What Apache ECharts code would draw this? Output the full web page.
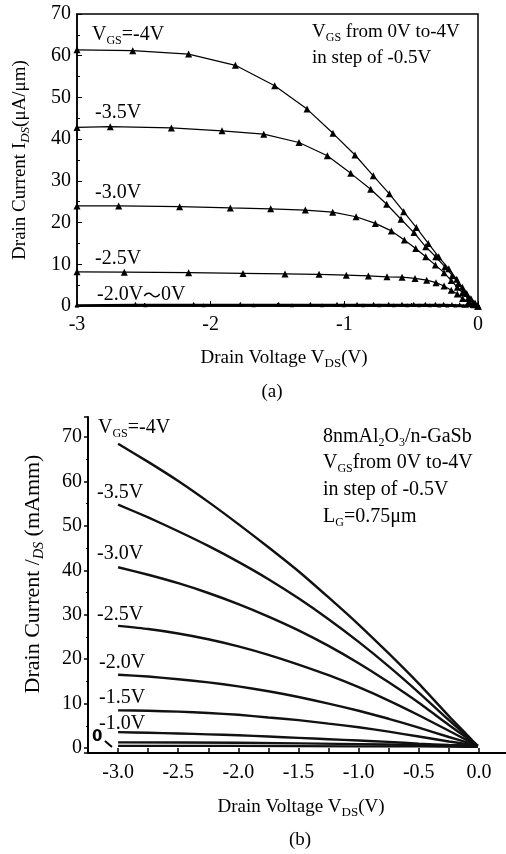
<!DOCTYPE html>
<html>
<head>
<meta charset="utf-8">
<script src="https://cdn.jsdelivr.net/npm/echarts@6/dist/echarts.min.js"></script>
<style>
  html, body { margin: 0; padding: 0; background: #fff; }
  #main { width: 506px; height: 854px; }
</style>
</head>
<body>
<div id="main"></div>
<script>
// (a) measured I-V points with triangle markers, [Vds, Ids]
var a40 = [[-3,61.4],[-2.583,61.2],[-2.165,60.4],[-1.815,57.7],[-1.521,52.8],[-1.279,47.2],[-1.085,41.4],[-0.920,36.2],[-0.783,31.2],[-0.663,26.9],[-0.556,22.6],[-0.461,18.8],[-0.372,15.0],[-0.294,11.8],[-0.219,8.9],[-0.159,6.4],[-0.117,4.5],[-0.084,3.0],[-0.05,1.6],[-0.02,0.6],[0,0]];
var a35 = [[-3,42.8],[-2.751,43.0],[-2.294,42.7],[-1.915,42.0],[-1.603,41.2],[-1.339,39.2],[-1.127,36.0],[-0.952,31.8],[-0.803,28.0],[-0.683,24.4],[-0.576,20.8],[-0.479,17.6],[-0.391,14.2],[-0.316,11.8],[-0.247,9.4],[-0.192,7.3],[-0.147,5.4],[-0.10,3.4],[-0.06,1.8],[-0.025,0.6],[0,0]];
var a30 = [[-3,24.0],[-2.688,24.0],[-2.232,23.8],[-1.853,23.5],[-1.551,23.3],[-1.292,23.0],[-1.087,22.5],[-0.912,21.4],[-0.768,19.8],[-0.648,18.0],[-0.551,15.8],[-0.466,13.8],[-0.391,11.8],[-0.319,9.8],[-0.254,8.0],[-0.200,6.1],[-0.155,4.5],[-0.117,3.2],[-0.075,1.8],[-0.035,0.7],[0,0]];
var a25 = [[-3,8.2],[-2.646,8.1],[-2.165,8.0],[-1.758,7.8],[-1.444,7.7],[-1.189,7.6],[-0.985,7.4],[-0.820,7.2],[-0.681,7.0],[-0.568,6.9],[-0.471,6.6],[-0.384,6.2],[-0.314,5.6],[-0.254,4.8],[-0.200,3.8],[-0.155,2.9],[-0.115,1.8],[-0.07,0.9],[-0.03,0.3],[0,0]];
var a20 = [[-3,0.3],[-2.563,0.4],[-2.127,0.4],[-1.778,0.4],[-1.491,0.4],[-1.254,0.4],[-1.055,0.4],[-0.905,0.4],[-0.781,0.4],[-0.668,0.4],[-0.569,0.4],[-0.481,0.4],[-0.394,0.4],[-0.319,0.4],[-0.257,0.4],[-0.195,0.35],[-0.137,0.3],[-0.087,0.2],[-0.045,0.1],[0,0]];
var a15 = [[-3,0.1],[-2.489,0.15],[-2.052,0.15],[-1.678,0.15],[-1.392,0.15],[-1.167,0.15],[-1.005,0.15],[-0.86,0.15],[-0.74,0.15],[-0.63,0.15],[-0.53,0.15],[-0.44,0.15],[-0.36,0.15],[-0.29,0.1],[-0.23,0.1],[-0.17,0.1],[-0.11,0.05],[0,0]];

// (b) simulated curves, [Vds, Ids]
var b40 = [[-3,68.5],[-2.75,64.4],[-2.5,60.1],[-2.25,55.4],[-2,50.4],[-1.75,45.2],[-1.5,39.8],[-1.25,33.9],[-1,27.8],[-0.75,21.3],[-0.5,14.5],[-0.25,7.2],[-0.1,3.0],[-0.05,1.6],[-0.01,0.5]];
var b35 = [[-3,54.8],[-2.75,51.9],[-2.5,48.8],[-2.25,45.5],[-2,41.9],[-1.75,38.0],[-1.5,33.7],[-1.25,29.0],[-1,23.9],[-0.75,18.4],[-0.5,12.5],[-0.25,6.3],[-0.1,2.7],[-0.05,1.4],[-0.01,0.5]];
var b30 = [[-3,40.7],[-2.75,39.0],[-2.5,37.1],[-2.25,34.9],[-2,32.4],[-1.75,29.6],[-1.5,26.5],[-1.25,23.0],[-1,19.1],[-0.75,14.8],[-0.5,10.2],[-0.25,5.2],[-0.1,2.3],[-0.05,1.3],[-0.01,0.5]];
var b25 = [[-3,27.5],[-2.75,26.8],[-2.5,25.8],[-2.25,24.5],[-2,22.9],[-1.75,21.0],[-1.5,18.8],[-1.25,16.4],[-1,13.7],[-0.75,10.7],[-0.5,7.4],[-0.25,3.9],[-0.1,1.8],[-0.05,1.1],[-0.01,0.5]];
var b20 = [[-3,16.5],[-2.75,16.1],[-2.5,15.5],[-2.25,14.8],[-2,13.9],[-1.75,12.8],[-1.5,11.5],[-1.25,10.0],[-1,8.4],[-0.75,6.6],[-0.5,4.6],[-0.25,2.5],[-0.1,1.3],[-0.05,0.9],[-0.01,0.5]];
var b15 = [[-3,8.5],[-2.75,8.4],[-2.5,8.2],[-2.25,7.9],[-2,7.5],[-1.75,6.9],[-1.5,6.3],[-1.25,5.5],[-1,4.7],[-0.75,3.7],[-0.5,2.6],[-0.25,1.5],[-0.1,0.9],[-0.05,0.7],[-0.01,0.4]];
var b10 = [[-3,3.6],[-2.75,3.45],[-2.5,3.3],[-2.25,3.1],[-2,2.9],[-1.75,2.6],[-1.5,2.3],[-1.25,2.0],[-1,1.7],[-0.75,1.4],[-0.5,1.0],[-0.25,0.7],[-0.1,0.6],[-0.05,0.5],[-0.01,0.4]];
var b05 = [[-3,1.3],[-2,1.2],[-1,0.9],[-0.5,0.7],[-0.1,0.5],[-0.01,0.4]];
var b00 = [[-3,0.5],[-2,0.5],[-1,0.4],[-0.5,0.4],[-0.1,0.3],[-0.01,0.3]];

var yTicksA = [0, 10, 20, 30, 40, 50, 60, 70];

var FONT = 'Liberation Serif';
var rich = {
  n: { fontFamily: FONT, fontSize: 20, lineHeight: 24 },
  m: { fontFamily: FONT, fontSize: 19, lineHeight: 24 },
  s: { fontFamily: FONT, fontSize: 12, lineHeight: 12, verticalAlign: 'bottom' },
  w: { fontFamily: 'Noto Sans CJK SC', fontSize: 18, lineHeight: 24 }
};

function note(x, y, text) {
  return { type: 'text', x: x, y: y, silent: true,
    style: { text: text, rich: rich, fill: '#000', textAlign: 'left', textVerticalAlign: 'middle',
             font: '20px "Liberation Serif"' } };
}

var myChart = echarts.init(document.getElementById('main'));

var axisLine = { onZero: false, lineStyle: { color: '#000', width: 1.5 } };
var tickLabel = { color: '#000', fontFamily: FONT, fontSize: 20 };

function lineA(name, data, size) {
  return {
    name: name, type: 'line', xAxisIndex: 0, yAxisIndex: 0, data: data,
    symbol: 'triangle', symbolSize: size,
    itemStyle: { color: '#000' },
    lineStyle: { color: '#000', width: 1.2 }
  };
}
function lineB(name, data) {
  return {
    name: name, type: 'line', xAxisIndex: 1, yAxisIndex: 1, data: data,
    showSymbol: false, smooth: 0.2,
    lineStyle: { color: '#111', width: 2.4 }
  };
}

var option = {
  animation: false,
  backgroundColor: '#fff',
  grid: [
    { left: 77, top: 14, width: 401, height: 292, show: true, borderColor: '#000', borderWidth: 1.5 },
    { left: 88, top: 417, width: 418, height: 336 }
  ],
  xAxis: [
    {
      gridIndex: 0, type: 'value', min: -3, max: 0, interval: 1,
      axisLine: axisLine,
      axisTick: { inside: true, length: 5, lineStyle: { color: '#000' } },
      minorTick: { show: true, splitNumber: 2, length: 3, lineStyle: { color: '#000' } },
      splitLine: { show: false },
      axisLabel: Object.assign({ margin: 9 }, tickLabel),
      name: 'Drain Voltage V{s|DS}(V)', nameLocation: 'middle', nameGap: 40,
      nameTextStyle: { color: '#000', fontFamily: FONT, fontSize: 19, lineHeight: 24, padding: [0, 0, 0, 13],
        rich: { s: { fontFamily: FONT, fontSize: 13, lineHeight: 13, verticalAlign: 'bottom' } } }
    },
    {
      gridIndex: 1, type: 'value', min: -3.25, max: 0.225, interval: 0.25,
      axisLine: { onZero: false, lineStyle: { color: '#000', width: 2 } },
      axisTick: { inside: true, length: 5, lineStyle: { color: '#000', width: 1.5 } },
      splitLine: { show: false },
      axisLabel: Object.assign({ margin: 10, showMaxLabel: false, showMinLabel: false,
        formatter: function (v) {
          return Math.abs(v * 2 - Math.round(v * 2)) < 1e-6 ? v.toFixed(1) : '';
        } }, tickLabel),
      name: 'Drain Voltage V{s|DS}(V)', nameLocation: 'middle', nameGap: 42,
      nameTextStyle: { color: '#000', fontFamily: FONT, fontSize: 19, lineHeight: 24, padding: [0, 0, 0, 8],
        rich: { s: { fontFamily: FONT, fontSize: 13, lineHeight: 13, verticalAlign: 'bottom' } } }
    }
  ],
  yAxis: [
    {
      gridIndex: 0, type: 'value', min: yTicksA[0], max: yTicksA[yTicksA.length - 1], interval: 10,
      axisLine: axisLine,
      axisTick: { inside: true, length: 5, lineStyle: { color: '#000' } },
      minorTick: { show: true, splitNumber: 2, length: 3, lineStyle: { color: '#000' } },
      splitLine: { show: false },
      axisLabel: Object.assign({ margin: 6 }, tickLabel),
      name: 'Drain Current I{s|DS}(μA/μm)', nameLocation: 'middle', nameGap: 45, nameRotate: 90,
      nameTextStyle: { color: '#000', fontFamily: FONT, fontSize: 19, lineHeight: 24,
        rich: { s: { fontFamily: FONT, fontSize: 13, lineHeight: 13, fontStyle: 'italic', verticalAlign: 'bottom' } } }
    },
    {
      gridIndex: 1, type: 'value', min: -1.1, max: 74.5, splitNumber: 8,
      axisLine: { onZero: false, lineStyle: { color: '#000', width: 2 } },
      axisTick: { length: 4, lineStyle: { color: '#000', width: 1.5 } },
      minorTick: { show: true, splitNumber: 2, length: 2, lineStyle: { color: '#000' } },
      splitLine: { show: false },
      axisLabel: Object.assign({ margin: 6, showMinLabel: false, showMaxLabel: false }, tickLabel),
      name: 'Drain Current /{s|DS} (mAmm)', nameLocation: 'middle', nameGap: 42, nameRotate: 90,
      nameTextStyle: { color: '#000', fontFamily: FONT, fontSize: 22, lineHeight: 26, padding: [0, 0, 0, 22],
        rich: { s: { fontFamily: FONT, fontSize: 14, lineHeight: 14, fontStyle: 'italic', verticalAlign: 'bottom' } } }
    }
  ],
  graphic: [
    note(92, 35, '{n|V}{s|GS}{n|=-4V}'),
    note(95, 113, '{n|-3.5V}'),
    note(95, 193, '{n|-3.0V}'),
    note(95, 259, '{n|-2.5V}'),
    note(97, 295, '{n|-2.0V}{w|～}{n|0V}'),
    note(312, 32, '{m|V}{s|GS}{m| from 0V to-4V}'),
    note(312, 58, '{m|in step of -0.5V}'),
    { type: 'text', x: 272, y: 392, style: { text: '(a)', fill: '#000', font: '19px "Liberation Serif"', textAlign: 'center', textVerticalAlign: 'middle' } },

    note(98, 428, '{n|V}{s|GS}{n|=-4V}'),
    note(97, 493, '{n|-3.5V}'),
    note(97, 554, '{n|-3.0V}'),
    note(97, 615, '{n|-2.5V}'),
    note(99, 663, '{n|-2.0V}'),
    note(99, 698, '{n|-1.5V}'),
    note(99, 724, '{n|-1.0V}'),
    { type: 'text', x: 92, y: 737, style: { text: '0', fill: '#000', font: 'bold 15px "DejaVu Sans"', textAlign: 'left', textVerticalAlign: 'middle' } },
    { type: 'line', shape: { x1: 105, y1: 741, x2: 112, y2: 747 }, style: { stroke: '#000', lineWidth: 2 } },
    note(323, 437, '{n|8nmAl}{s|2}{n|O}{s|3}{n|/n-GaSb}'),
    note(323, 463, '{n|V}{s|GS}{n|from 0V to-4V}'),
    note(323, 490, '{n|in step of -0.5V}'),
    note(323, 517, '{n|L}{s|G}{n|=0.75μm}'),
    { type: 'text', x: 300, y: 840, style: { text: '(b)', fill: '#000', font: '19px "Liberation Serif"', textAlign: 'center', textVerticalAlign: 'middle' } }
  ],
  series: [
    lineA('-4V', a40, 7),
    lineA('-3.5V', a35, 7),
    lineA('-3.0V', a30, 7),
    lineA('-2.5V', a25, 7),
    lineA('-2.0V', a20, 5),
    lineA('-1.5V', a15, 4),
    lineB('-4V', b40),
    lineB('-3.5V', b35),
    lineB('-3.0V', b30),
    lineB('-2.5V', b25),
    lineB('-2.0V', b20),
    lineB('-1.5V', b15),
    lineB('-1.0V', b10),
    lineB('-0.5V', b05),
    lineB('0V', b00)
  ]
};

myChart.setOption(option);
</script>
</body>
</html>
